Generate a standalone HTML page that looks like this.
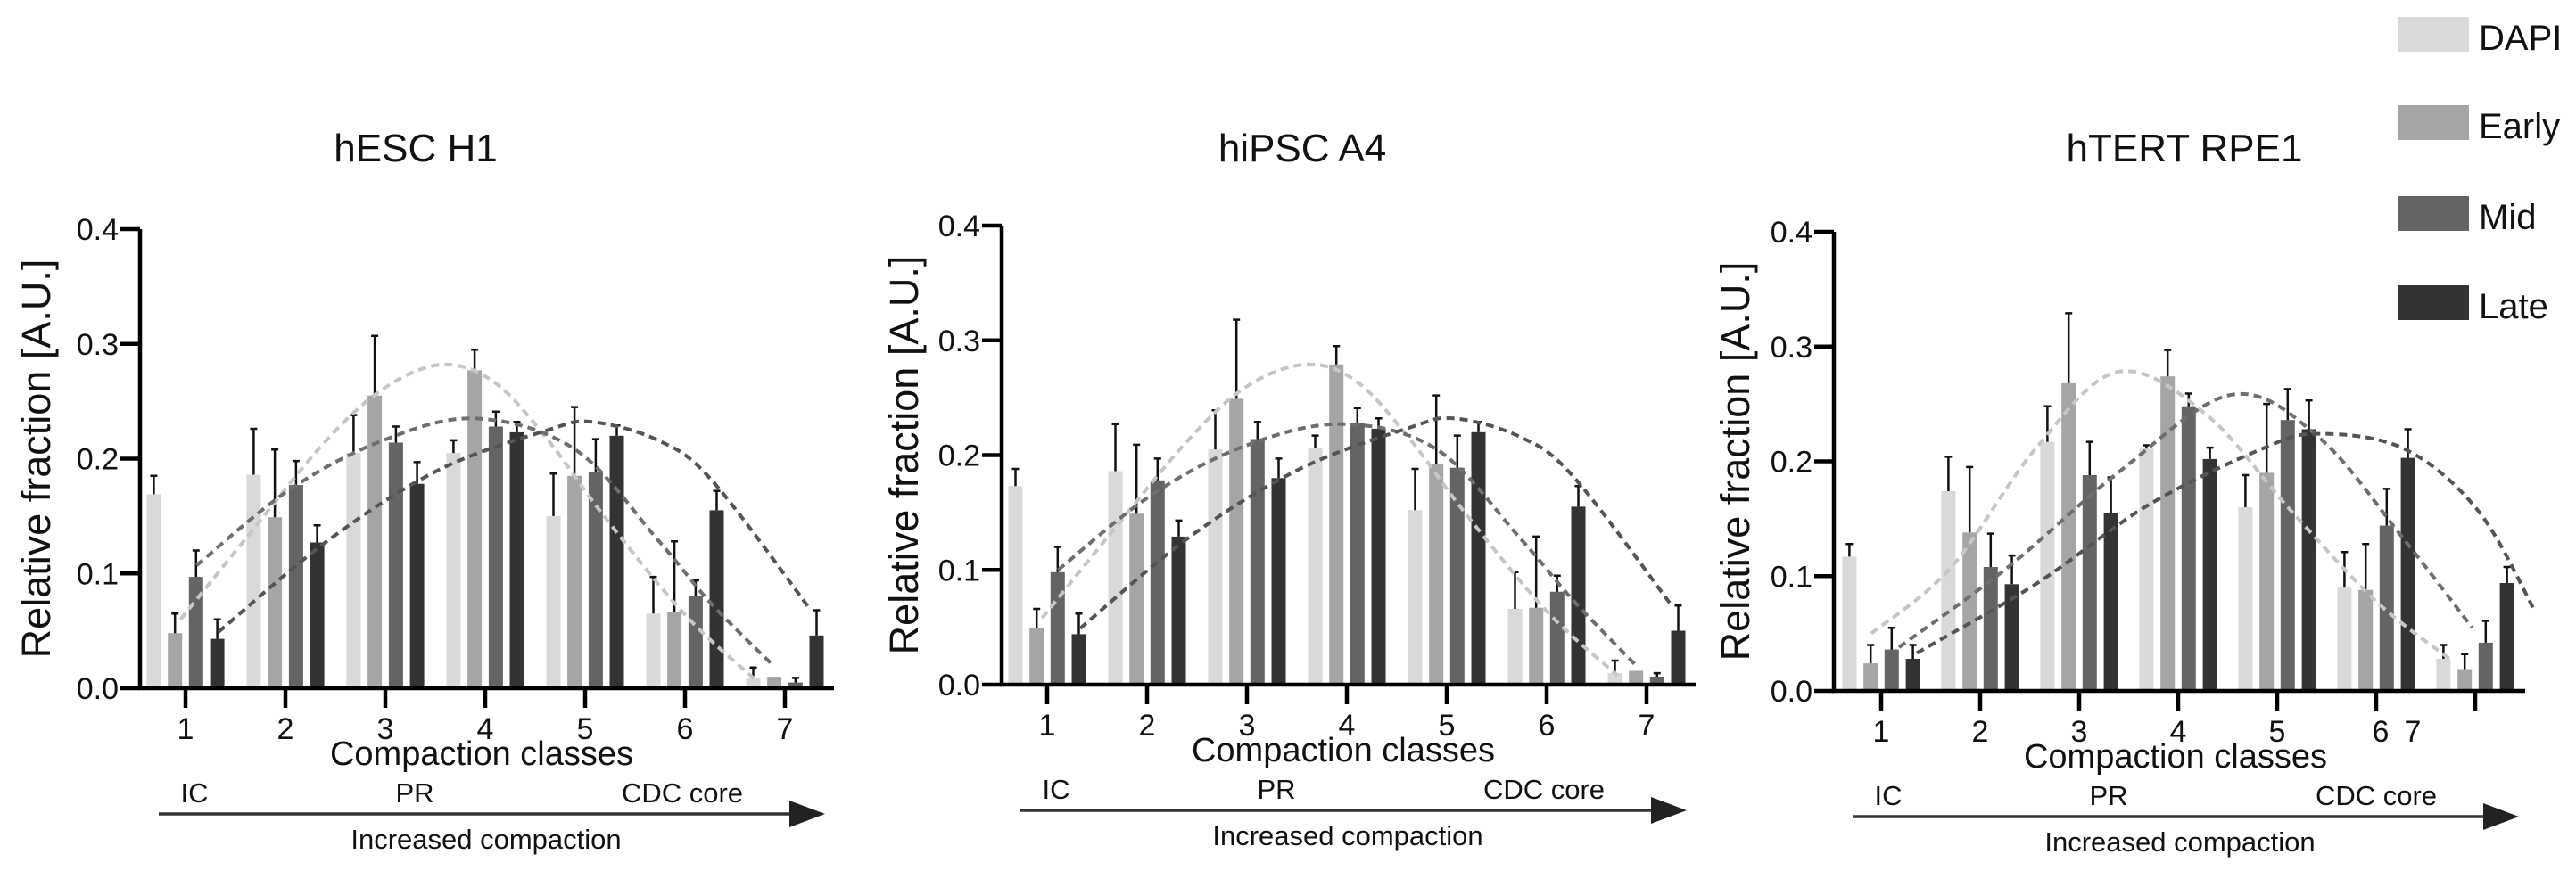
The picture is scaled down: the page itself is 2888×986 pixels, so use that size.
<!DOCTYPE html>
<html><head><meta charset="utf-8">
<style>
html,body{margin:0;padding:0;background:#fff;}
svg{display:block;font-family:"Liberation Sans",Arial,sans-serif;}
</style></head>
<body>
<svg id="fig" width="2888" height="986" viewBox="0 0 2888 986" xmlns="http://www.w3.org/2000/svg"></svg>
<script>
const classes = [1,2,3,4,5,6,7];
const yTicks = [0.0,0.1,0.2,0.3,0.4];
const yTickLabels = ["0.0","0.1","0.2","0.3","0.4"];
const seriesNames = ["DAPI","Early","Mid","Late"];

// hESC H1
const h1Dapi  = [0.169,0.186,0.205,0.205,0.150,0.065,0.009];
const h1Early = [0.048,0.149,0.255,0.277,0.185,0.066,0.010];
const h1Mid   = [0.097,0.177,0.214,0.228,0.188,0.080,0.005];
const h1Late  = [0.043,0.127,0.178,0.223,0.220,0.155,0.046];
const h1DapiErr  = [0.185,0.226,0.238,0.216,0.187,0.097,0.018];
const h1EarlyErr = [0.065,0.208,0.307,0.295,0.245,0.128,0.010];
const h1MidErr   = [0.120,0.198,0.228,0.241,0.217,0.094,0.009];
const h1LateErr  = [0.060,0.142,0.197,0.232,0.229,0.172,0.068];
const h1DapiCurveX = [0.95,1.6,2.4,3.0,3.58,4.1,4.63,5.18,6.0,6.71];
const h1DapiCurveY = [0.060,0.130,0.215,0.262,0.282,0.266,0.216,0.151,0.064,0.007];
const h1MidCurveX = [1.11,2.04,2.98,3.91,4.9,5.73,6.27,6.88];
const h1MidCurveY = [0.107,0.173,0.216,0.235,0.208,0.129,0.073,0.020];
const h1LateCurveX = [1.33,2.43,3.53,4.63,5.07,5.73,6.27,7.26];
const h1LateCurveY = [0.049,0.129,0.190,0.225,0.232,0.216,0.181,0.068];

// hiPSC A4
const a4Dapi  = [0.173,0.186,0.205,0.206,0.152,0.066,0.010];
const a4Early = [0.049,0.149,0.249,0.279,0.192,0.067,0.012];
const a4Mid   = [0.098,0.178,0.214,0.228,0.189,0.081,0.007];
const a4Late  = [0.044,0.129,0.180,0.223,0.220,0.155,0.047];
const a4DapiErr  = [0.188,0.227,0.239,0.217,0.188,0.098,0.021];
const a4EarlyErr = [0.066,0.209,0.318,0.295,0.252,0.129,0.012];
const a4MidErr   = [0.120,0.197,0.229,0.241,0.217,0.095,0.010];
const a4LateErr  = [0.062,0.143,0.197,0.232,0.229,0.173,0.069];
const a4DapiCurveX = [0.95,1.6,2.4,3.0,3.6,4.1,4.63,5.18,6.0,6.71];
const a4DapiCurveY = [0.058,0.128,0.212,0.260,0.279,0.264,0.214,0.150,0.064,0.008];
const a4MidCurveX = [1.11,2.04,2.98,3.95,4.9,5.73,6.27,6.88];
const a4MidCurveY = [0.100,0.165,0.208,0.227,0.205,0.128,0.073,0.018];
const a4LateCurveX = [1.33,2.43,3.53,4.63,5.07,5.73,6.27,7.26];
const a4LateCurveY = [0.049,0.129,0.188,0.224,0.232,0.216,0.181,0.068];

// hTERT RPE1
const rpDapi  = [0.117,0.174,0.217,0.211,0.160,0.090,0.028];
const rpEarly = [0.024,0.138,0.268,0.274,0.190,0.088,0.019];
const rpMid   = [0.036,0.108,0.188,0.248,0.236,0.144,0.042];
const rpLate  = [0.028,0.093,0.155,0.202,0.228,0.203,0.094];
const rpDapiErr  = [0.128,0.204,0.248,0.214,0.188,0.121,0.040];
const rpEarlyErr = [0.040,0.195,0.329,0.297,0.250,0.128,0.032];
const rpMidErr   = [0.055,0.137,0.217,0.259,0.263,0.176,0.061];
const rpLateErr  = [0.040,0.118,0.186,0.212,0.253,0.228,0.108];
const rpDapiCurveX = [0.9,1.7,2.56,3.39,4.28,5.14,6.0,6.74];
const rpDapiCurveY = [0.050,0.107,0.211,0.278,0.241,0.157,0.078,0.028];
const rpMidCurveX = [1.18,2.27,3.42,4.54,5.42,6.28,6.97];
const rpMidCurveY = [0.038,0.107,0.192,0.258,0.221,0.132,0.055];
const rpLateCurveX = [1.36,2.56,3.7,4.85,5.42,6.28,7.03,7.6];
const rpLateCurveY = [0.033,0.093,0.162,0.211,0.224,0.211,0.157,0.070];

const NS = "http://www.w3.org/2000/svg";
const svg = document.getElementById("fig");
const barColors = ["#d9d9d9","#a5a5a8","#646464","#333333"];
const curveColors = ["#c6c6c6","#6e6e6e","#545454"];

function mk(tag, attrs, parent){
  const e = document.createElementNS(NS, tag);
  for (const k in attrs) e.setAttribute(k, attrs[k]);
  (parent||svg).appendChild(e);
  return e;
}
function smoothPath(pts){
  let d = "M"+pts[0][0].toFixed(1)+","+pts[0][1].toFixed(1);
  for (let i=0;i<pts.length-1;i++){
    const p0=pts[Math.max(0,i-1)], p1=pts[i], p2=pts[i+1], p3=pts[Math.min(pts.length-1,i+2)];
    const c1x=p1[0]+(p2[0]-p0[0])/6, c1y=p1[1]+(p2[1]-p0[1])/6;
    const c2x=p2[0]-(p3[0]-p1[0])/6, c2y=p2[1]-(p3[1]-p1[1])/6;
    d+=" C"+c1x.toFixed(1)+","+c1y.toFixed(1)+" "+c2x.toFixed(1)+","+c2y.toFixed(1)+" "+p2[0].toFixed(1)+","+p2[1].toFixed(1);
  }
  return d;
}

function panel(cfg){
  const g = mk("g", {});
  
  
  const ax = cfg.axis, y0 = cfg.y0, yt = cfg.ytop;
  const yS = v => y0 - v/0.4*(y0-yt);
  const xS = c => ax + cfg.off + (c-1)*cfg.step;
  const bw = 16, bstep = 23.7;

  const t = mk("text", {x:cfg.titleX, y:181, "font-size":44, "text-anchor":"middle", fill:"#111"}, g);
  t.textContent = cfg.title;
  
  

  // bars
  const vals = cfg.vals, errs = cfg.errs;
  for (let s=0;s<4;s++){
    for (let i=0;i<classes.length;i++){
      const cx = xS(classes[i]) + (s-1.5)*bstep;
      const top = yS(vals[s][i]);
      const r = mk("rect", {x:(cx-bw/2).toFixed(1), y:top.toFixed(1), width:bw, height:(y0-top).toFixed(1), fill:barColors[s]}, g);
      
      
      const et = yS(errs[s][i]);
      if (y0-et > 0 && et < top-1){
        const el = mk("path", {d:"M"+cx.toFixed(1)+","+top.toFixed(1)+" V"+et.toFixed(1)+" M"+(cx-4).toFixed(1)+","+et.toFixed(1)+" H"+(cx+4).toFixed(1), stroke:"#111", "stroke-width":2.5, fill:"none"}, g);
        
        
      }
    }
  }
  // curves
  const curves = cfg.curves;
  for (let c=0;c<curves.length;c++){
    const pts = curves[c][0].map((x,i)=>[xS(x), yS(curves[c][1][i])]);
    const p = mk("path", {d:smoothPath(pts), stroke:curveColors[c], "stroke-width":4, fill:"none", "stroke-dasharray":"9 6"}, g);
    
    
  }
  // axes
  const ya = mk("path", {d:"M"+ax+","+yt+" V"+(y0+2), stroke:"#000", "stroke-width":4.5, fill:"none"}, g);
  
  
  const xa = mk("path", {d:"M"+(ax-2)+","+y0+" H"+(ax+cfg.xend), stroke:"#000", "stroke-width":4.5, fill:"none"}, g);
  
  
  for (let i=0;i<yTicks.length;i++){
    const yy = yS(yTicks[i]);
    mk("path", {d:"M"+(ax-22)+","+yy+" H"+ax, stroke:"#000", "stroke-width":4.5}, g);
    const tl = mk("text", {x:ax-24, y:yy+12, "font-size":34, "text-anchor":"end", fill:"#111"}, g);
    tl.textContent = yTickLabels[i];
    
    
  }
  for (let i=0;i<classes.length;i++){
    const xx = xS(classes[i]);
    mk("path", {d:"M"+xx+","+y0+" V"+(y0+22), stroke:"#000", "stroke-width":4.5}, g);
    const lab = cfg.tickLabels[i];
    if (lab){
      const tl = mk("text", {x:xx+lab[1], y:y0+57, "font-size":34, "text-anchor":"middle", fill:"#111"}, g);
      tl.textContent = lab[0];
      
      
    }
    if (lab && lab[2]){
      const tl2 = mk("text", {x:xx+lab[1]+36, y:y0+57, "font-size":34, "text-anchor":"middle", fill:"#111"}, g);
      tl2.textContent = lab[2];
      
      
    }
  }
  const xt = mk("text", {x:ax+383, y:y0+86, "font-size":38, "text-anchor":"middle", fill:"#111"}, g);
  xt.textContent = "Compaction classes";
  
  
  const yl = mk("text", {x:0, y:0, "font-size":45, "text-anchor":"middle", fill:"#111", transform:"translate("+(ax-cfg.ylab+16)+","+((y0+yt)/2)+") rotate(-90)"}, g);
  yl.textContent = "Relative fraction [A.U.]";
  
  
  // annotations
  const ann = [["IC",61],["PR",308],["CDC core",608]];
  for (const a of ann){
    const tx = mk("text", {x:ax+a[1], y:y0+128, "font-size":31, "text-anchor":"middle", fill:"#111"}, g);
    tx.textContent = a[0];
    
    
  }
  const ay = y0+141;
  const arr = mk("path", {d:"M"+(ax+21)+","+ay+" H"+(ax+735), stroke:"#333", "stroke-width":3.5, fill:"none"}, g);
  
  
  const ah = mk("path", {d:"M"+(ax+728)+","+(ay-15)+" L"+(ax+768)+","+ay+" L"+(ax+728)+","+(ay+15)+" Z", fill:"#222"}, g);
  
  
  const ic = mk("text", {x:ax+388, y:y0+180, "font-size":31, "text-anchor":"middle", fill:"#111"}, g);
  ic.textContent = "Increased compaction";
  
  
}

const stdLabels = classes.map(c=>[String(c),0]);
panel({id:"hesc-h1", title:"hESC H1", titleX:466, axis:157, y0:772, ytop:257, off:51, step:112, xend:778, ylab:117,
  vals:[h1Dapi,h1Early,h1Mid,h1Late], errs:[h1DapiErr,h1EarlyErr,h1MidErr,h1LateErr],
  curves:[[h1DapiCurveX,h1DapiCurveY],[h1MidCurveX,h1MidCurveY],[h1LateCurveX,h1LateCurveY]], tickLabels:stdLabels});
panel({id:"hipsc-a4", title:"hiPSC A4", titleX:1460, axis:1123, y0:768, ytop:253, off:51, step:112, xend:778, ylab:110,
  vals:[a4Dapi,a4Early,a4Mid,a4Late], errs:[a4DapiErr,a4EarlyErr,a4MidErr,a4LateErr],
  curves:[[a4DapiCurveX,a4DapiCurveY],[a4MidCurveX,a4MidCurveY],[a4LateCurveX,a4LateCurveY]], tickLabels:stdLabels});
panel({id:"htert-rpe1", title:"hTERT RPE1", titleX:2449, axis:2056, y0:775, ytop:260, off:53, step:111, xend:775, ylab:111,
  vals:[rpDapi,rpEarly,rpMid,rpLate], errs:[rpDapiErr,rpEarlyErr,rpMidErr,rpLateErr],
  curves:[[rpDapiCurveX,rpDapiCurveY],[rpMidCurveX,rpMidCurveY],[rpLateCurveX,rpLateCurveY]],
  tickLabels:[["1",0],["2",0],["3",0],["4",0],["5",0],["6",5,"7"],null]});

// legend
const legY = [19,118,220,320];
for (let s=0;s<4;s++){
  const r = mk("rect", {x:2689, y:legY[s], width:79, height:39, fill:barColors[s]});
  
  
  const t = mk("text", {x:2779, y:legY[s]+37, "font-size":40, fill:"#111"});
  t.textContent = seriesNames[s];
  
  
}
</script>
</body></html>
